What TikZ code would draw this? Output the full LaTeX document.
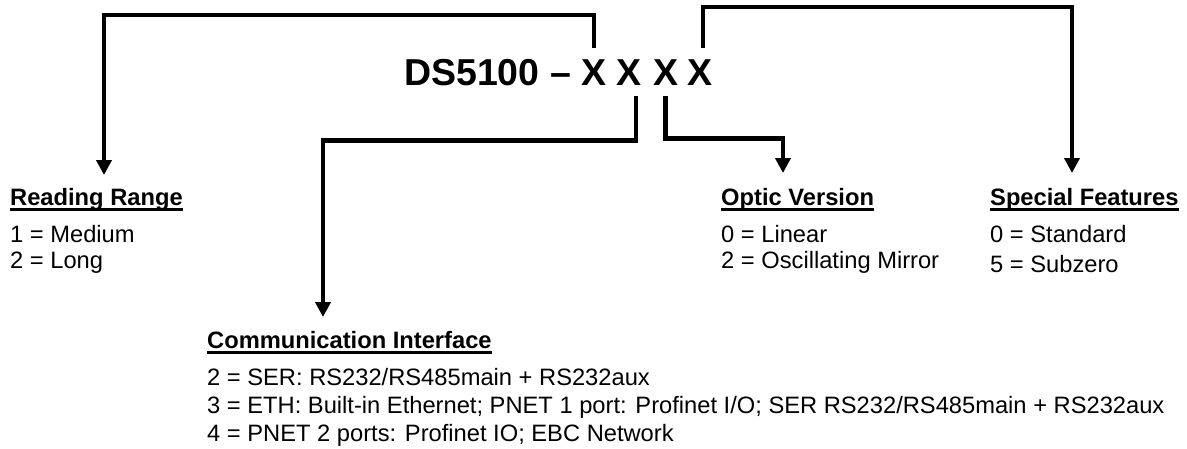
\documentclass[tikz,border=0pt]{standalone}
\usepackage{fontspec}
\setmainfont{Liberation Sans}
\usetikzlibrary{arrows.meta}

%Underlined heading
\newcommand{\ulhead}[1]{\setbox0\hbox{#1}\rlap{\rule[-5.5pt]{\wd0}{2.2pt}}\box0}

\tikzset{
  txt/.style={inner sep=0pt, anchor=base west, font=\fontsize{23.7}{28}\selectfont},
  head/.style={txt, font=\fontsize{23.7}{28}\selectfont\bfseries},
  pn/.style={inner sep=0pt, anchor=base, font=\fontsize{37.5}{40}\selectfont\bfseries},
  conn/.style={line width=4.7pt, -{Triangle[length=15pt,width=15pt]}}
}

\begin{document}
\begin{tikzpicture}[x=1pt,y=-1pt]
\useasboundingbox (0,0) rectangle (1187,448);

%Part number
\node[pn, anchor=base west] (ds) at (404,85) {DS5100 –};
\node[pn] (x1) at (594,85) {X};
\node[pn] (x2) at (629.5,85) {X};
\node[pn] (x3) at (665.5,85) {X};
\node[pn] (x4) at (700.5,85) {X};

%Arrow targets
\coordinate (rrin) at (104,175);
\coordinate (ciin) at (323,317);
\coordinate (ovin) at (783,173);
\coordinate (sfin) at (1072,173);

%Reading range
\node[head] (rr) at (10,205) {\ulhead{Reading Range}};
\node[txt] (rr1) at (10,242) {1 = Medium};
\node[txt] (rr2) at (10,268) {2 = Long};

%Optic version
\node[head] (ov) at (721,205) {\ulhead{Optic Version}};
\node[txt] (ov1) at (721,242) {0 = Linear};
\node[txt] (ov2) at (721,268) {2 = Oscillating Mirror};

%Special features
\node[head] (sf) at (990,205) {\ulhead{Special Features}};
\node[txt] (sf1) at (990,242) {0 = Standard};
\node[txt] (sf2) at (990,272) {5 = Subzero};

%Communication interface
\node[head] (ci) at (207,348) {\ulhead{Communication Interface}};
\node[txt] (ci1) at (207,385) {2 = SER: RS232/RS485main + RS232aux};
\node[txt] (ci2) at (207,413) {3 = ETH: Built-in Ethernet; PNET 1 port: Profinet I/O; SER RS232/RS485main + RS232aux};
\node[txt] (ci3) at (207,441) {4 = PNET 2 ports: Profinet IO; EBC Network};

%Connectors
\draw[conn] ([yshift=11pt]x1.north) -- ++(0,-33) -| (rrin);
\draw[conn] ([xshift=2.5pt,yshift=11pt]x4.north) -- ++(0,-41) -| (sfin);
\draw[conn] ([xshift=6.5pt,yshift=-11pt]x2.south) -- ++(0,44) -| (ciin);
\draw[conn] ([yshift=-11pt]x3.south) -- ++(0,42) -| (ovin);
\end{tikzpicture}
\end{document}
